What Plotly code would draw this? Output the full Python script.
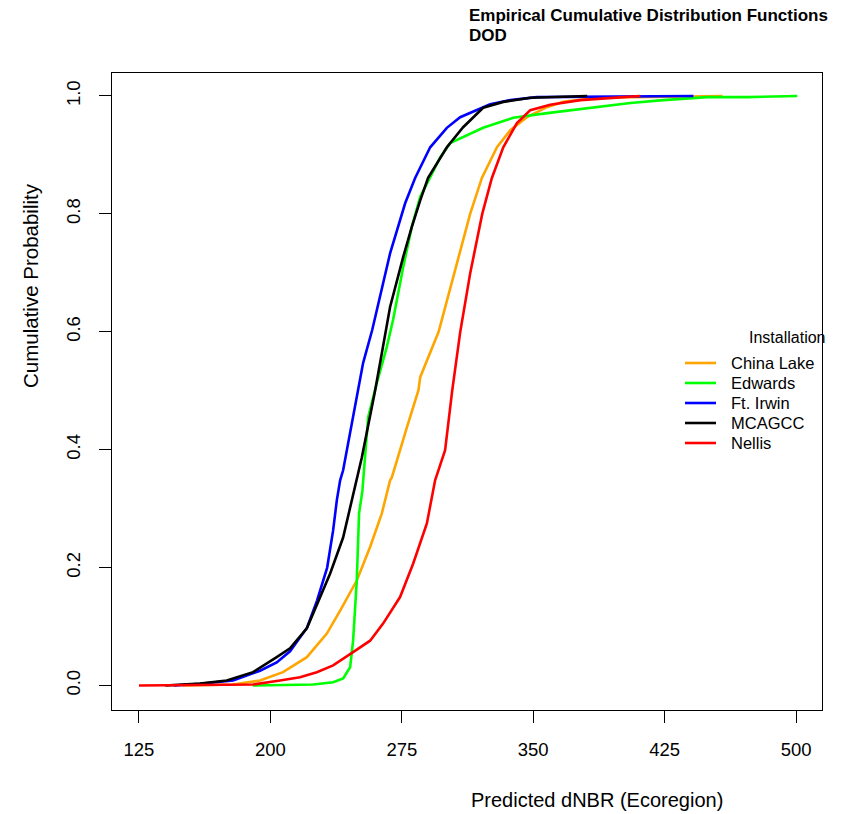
import plotly.graph_objects as go

# ECDF curves (Predicted dNBR, cumulative probability)
china_lake_x = [150, 178.7, 194.1, 207.2, 220.8, 232.2, 239.8, 249.3, 256.9, 263.6, 268.3, 269.3,
                277.9, 284.5, 285.5, 296.0, 305.0, 314.0, 320.7, 329.3, 336.9, 346.4, 357.8,
                367.1, 386.5, 415.1, 458.0]
china_lake_y = [0.0, 0.0017, 0.0085, 0.0226, 0.048, 0.088, 0.127, 0.178, 0.235, 0.292, 0.348, 0.353,
                0.438, 0.501, 0.523, 0.600, 0.700, 0.800, 0.861, 0.913, 0.942, 0.964, 0.981,
                0.990, 0.997, 0.998, 1.0]

edwards_x = [190, 224.4, 235.8, 241.5, 245.5, 247.2, 249.3, 250.6, 252.5, 255.8, 260.7, 266.4,
             270.0, 275.8, 280.7, 285.5, 296.9, 302.6, 321.4, 338.6, 358.0, 386.5, 405.4,
             424.2, 449.4, 472.2, 500.7]
edwards_y = [0.0, 0.0017, 0.0056, 0.0119, 0.031, 0.076, 0.178, 0.292, 0.330, 0.455, 0.513, 0.574,
             0.620, 0.710, 0.778, 0.829, 0.896, 0.920, 0.946, 0.963, 0.971, 0.981, 0.988,
             0.993, 0.998, 0.998, 1.0]

ft_irwin_x = [145, 160, 178.7, 194.1, 203.6, 211.2, 220.9, 226.6, 232.4, 235.8, 237.9, 239.8,
              241.5, 252.9, 258.1, 268.3, 276.9, 282.6, 291.2, 300.7, 308.3, 317.8, 325.4,
              336.9, 352.1, 441.4]
ft_irwin_y = [0.0, 0.003, 0.0085, 0.025, 0.039, 0.058, 0.098, 0.144, 0.200, 0.263, 0.314, 0.348,
              0.365, 0.547, 0.603, 0.733, 0.818, 0.861, 0.913, 0.946, 0.964, 0.976, 0.986,
              0.993, 0.998, 1.0]

mcagcc_x = [140, 159.8, 175.1, 190.1, 203.6, 211.2, 220.8, 226.5, 234.1, 241.5, 246.5, 249.3,
            252.2, 259.8, 268.3, 275.8, 280.7, 285.5, 290.0, 300.7, 310.0, 321.4, 332.9,
            348.3, 380.8]
mcagcc_y = [0.0, 0.0034, 0.0085, 0.0226, 0.048, 0.063, 0.097, 0.136, 0.190, 0.251, 0.314, 0.348,
            0.387, 0.501, 0.642, 0.727, 0.778, 0.823, 0.861, 0.913, 0.947, 0.980, 0.990,
            0.997, 1.0]

nellis_x = [125, 190.1, 205.5, 216.9, 226.5, 235.8, 247.2, 256.9, 264.3, 274.0, 281.5, 289.3,
            294.0, 299.7, 303.7, 308.3, 314.0, 320.9, 326.4, 332.9, 340.7, 348.3, 359.7,
            376.8, 401.4, 411.1]
nellis_y = [0.0, 0.0017, 0.0085, 0.014, 0.0226, 0.034, 0.0565, 0.076, 0.105, 0.150, 0.207, 0.275,
            0.348, 0.399, 0.499, 0.599, 0.699, 0.800, 0.861, 0.913, 0.954, 0.976, 0.985,
            0.993, 0.998, 1.0]

series_names = ["China Lake", "Edwards", "Ft. Irwin", "MCAGCC", "Nellis"]
series_x = [china_lake_x, edwards_x, ft_irwin_x, mcagcc_x, nellis_x]
series_y = [china_lake_y, edwards_y, ft_irwin_y, mcagcc_y, nellis_y]
series_colors = ["#FFA500", "#00FF00", "#0000FF", "#000000", "#FF0000"]

x_ticks = [125, 200, 275, 350, 425, 500]
y_ticks = [0.0, 0.2, 0.4, 0.6, 0.8, 1.0]
y_tick_labels = ["0.0", "0.2", "0.4", "0.6", "0.8", "1.0"]

title_lines = ["Empirical Cumulative Distribution Functions", "DOD"]
legend_title = "Installation"

FONT = "Liberation Sans, Arial, sans-serif"

# plot area in pixels
L, R, T, B = 112, 822, 73, 710
PW, PH = R - L, B - T


def px_x(px):
    return (px - L) / PW


def px_y(py):
    return (B - py) / PH


fig = go.Figure()
for name, xs, ys, col in zip(series_names, series_x, series_y, series_colors):
    fig.add_trace(go.Scatter(x=xs, y=ys, mode="lines", name=name, showlegend=False,
                             line=dict(color=col, width=2.6)))

annotations = [
    dict(text="Predicted dNBR (Ecoregion)", xref="paper", yref="paper",
         x=px_x(597), y=px_y(800), xanchor="center", yanchor="middle",
         showarrow=False, font=dict(size=20, family=FONT)),
    dict(text="Cumulative Probability", xref="paper", yref="paper",
         x=px_x(30), y=px_y(286), xanchor="center", yanchor="middle",
         textangle=-90, showarrow=False, font=dict(size=20.5, family=FONT)),
    dict(text=legend_title, xref="paper", yref="paper",
         x=px_x(747), y=px_y(338), xanchor="left", yanchor="middle",
         showarrow=False, font=dict(size=16, family=FONT)),
]
for i, line in enumerate(title_lines):
    annotations.append(dict(text="<b>%s</b>" % line, xref="paper", yref="paper",
                            x=px_x(467), y=px_y(16 + 19 * i), xanchor="left", yanchor="middle",
                            showarrow=False, font=dict(size=17, family=FONT)))

shapes = []
for i, (name, col) in enumerate(zip(series_names, series_colors)):
    yc = 363 + 20 * i
    shapes.append(dict(type="line", xref="paper", yref="paper",
                       x0=px_x(685), x1=px_x(716), y0=px_y(yc), y1=px_y(yc),
                       line=dict(color=col, width=2.6)))
    annotations.append(dict(text=name, xref="paper", yref="paper",
                            x=px_x(729), y=px_y(yc), xanchor="left", yanchor="middle",
                            showarrow=False, font=dict(size=16.5, family=FONT)))

fig.update_layout(
    width=850, height=814,
    margin=dict(l=L, r=850 - R, t=T, b=814 - B),
    paper_bgcolor="white", plot_bgcolor="white",
    font=dict(family=FONT, color="black", size=16),
    showlegend=False,
    xaxis=dict(range=[109.6, 514.8], tickvals=x_ticks, ticks="outside", ticklen=12,
               tickcolor="black", tickwidth=1, showgrid=False, zeroline=False,
               showline=True, linecolor="black", linewidth=1, mirror=True,
               tickfont=dict(size=18.5), ticklabelstandoff=11),
    yaxis=dict(range=[-0.0416, 1.039], tickvals=y_ticks, ticktext=y_tick_labels,
               ticks="outside", ticklen=12, tickcolor="black", tickwidth=1,
               showgrid=False, zeroline=False, showline=True, linecolor="black",
               linewidth=1, mirror=True, tickangle=-90, tickfont=dict(size=18.5),
               ticklabelstandoff=12),
    annotations=annotations,
    shapes=shapes,
)

fig.write_html("out.html")
